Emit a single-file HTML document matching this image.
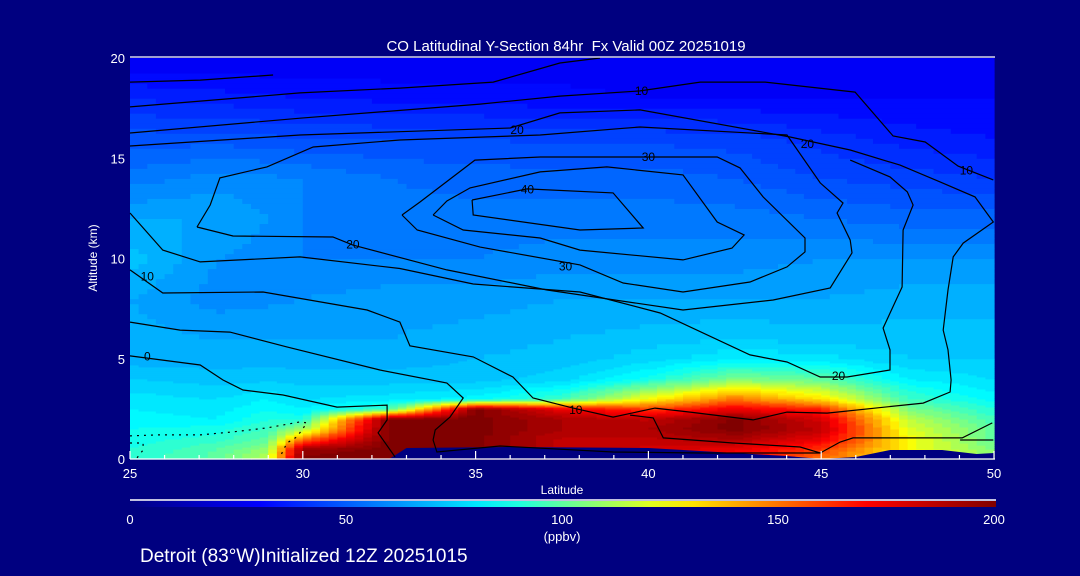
<!DOCTYPE html>
<html><head><meta charset="utf-8">
<style>
html,body{margin:0;padding:0;background:#000080;width:1080px;height:576px;overflow:hidden}
svg{display:block;font-family:"Liberation Sans",sans-serif}
</style></head>
<body>
<svg id="chart" width="1080" height="576" viewBox="0 0 1080 576" xmlns="http://www.w3.org/2000/svg">
<rect x="0" y="0" width="1080" height="576" fill="#000080"/>
<text x="566" y="51" fill="#fff" font-size="15" text-anchor="middle" style="white-space:pre">CO Latitudinal Y-Section 84hr  Fx Valid 00Z 20251019</text>
<g id="field"></g>
<g id="terrain"></g>
<g id="contours"></g>
<g id="axes"></g>
<text transform="translate(97,258) rotate(-90)" fill="#fff" font-size="12" text-anchor="middle">Altitude (km)</text>
<text x="562" y="494" fill="#fff" font-size="12" text-anchor="middle">Latitude</text>
<defs><linearGradient id="cbg" x1="0" x2="1" y1="0" y2="0"></linearGradient></defs>
<line x1="130" y1="500" x2="996" y2="500" stroke="#fff" stroke-width="1.5"/>
<rect x="130" y="501" width="866" height="6" fill="url(#cbg)"/>
<g id="cbticks"></g>
<text x="562" y="541" fill="#fff" font-size="13" text-anchor="middle">(ppbv)</text>
<text x="140" y="562" fill="#fff" font-size="19">Detroit (83°W)Initialized 12Z 20251015</text>
</svg>
<script>
const lats=[25,27.5,29,30,32.5,35,37.5,40,42.5,45,47.5,50];
const alts=[0,0.5,1,1.5,2,2.5,3,4,5,6,8,10,12,14,16,18,20];
const co=[
[90,100,115,200,200,200,190,180,170,150,125,105],
[90,98,108,195,200,200,185,180,175,160,125,105],
[88,92,100,150,200,200,185,185,190,175,125,100],
[86,88,95,110,200,200,190,190,200,185,120,100],
[84,82,90,88,200,200,190,185,200,180,115,95],
[82,80,86,82,95,200,175,160,175,165,105,90],
[80,78,82,78,80,84,95,125,150,130,95,84],
[74,72,73,72,72,72,76,88,105,100,82,78],
[68,68,68,68,68,70,72,76,82,80,74,74],
[68,66,66,66,66,68,70,72,74,72,72,72],
[66,60,61,62,64,64,66,66,66,66,68,68],
[72,62,60,58,58,58,60,60,60,62,62,62],
[66,66,62,58,56,56,56,56,56,54,52,52],
[56,60,59,58,54,52,52,52,50,46,44,42],
[48,48,47,46,46,46,45,45,44,40,36,34],
[38,36,35,34,33,32,31,30,30,30,30,30],
[26,26,26,26,26,27,28,28,27,27,27,27]];
const terrainLat=[25,32.5,33.0,36,40,42,44,45,46,47,48.5,49.5,50];
const terrainAlt=[0,0,0.55,0.6,0.55,0.35,0.15,0,0.1,0.45,0.45,0.25,0.3];
const xTicks=[25,30,35,40,45,50];
const yTicks=[0,5,10,15,20];
const cbTicks=[0,50,100,150,200];
const cA=[[25,18.8],[27.03,18.9],[29.14,19.15]];
const cB=[[25,17.56],[29.92,18.26],[32.81,18.5],[35.51,18.8],[37.44,19.75],[38.6,20]];
const cC=[[25,16.26],[29.92,17.0],[35.13,17.7],[37.44,18.1],[39.76,18.36],[41.5,18.8],[43.38,18.8],[45.98,18.3],[47.08,16.11],[48.01,15.81],[48.96,14.61],[49.98,13.92]];
const cD=[[25,15.61],[29.92,16.16],[36.0,16.51],[37.44,17.26],[39.76,17.41],[44.1,16.06],[45.84,15.41],[47.28,14.66],[48.44,13.82],[49.45,13.07],[49.98,11.82],[49.11,10.77],[48.82,10.08],[48.67,8.43],[48.53,6.43],[48.67,5.44],[48.76,3.94],[48.73,3.34],[47.95,2.79],[45.17,2.29],[44.01,2.34],[43.03,1.95],[41.21,2.34],[40.19,2.54],[38.98,2.09],[37.82,2.54],[36.66,3.04],[36.08,4.09],[34.93,5.09],[33.10,5.64],[32.81,6.83],[31.86,7.43],[28.85,8.33],[25.95,8.28],[25,9.43]];
const cE=[[26.94,11.57],[27.32,12.67],[27.6,14.02],[28.96,14.57],[30.3,15.56],[32.81,15.91],[36.87,16.16],[39.76,16.56],[44.01,16.16],[44.97,13.77],[45.63,12.77],[45.46,12.27],[45.84,10.92],[45.89,10.28],[45.26,8.53],[43.61,7.93],[41.0,7.43],[37.07,8.43],[34.17,9.43],[31.45,10.67],[30.87,11.07],[27.98,11.12],[26.94,11.57]];
const cF=[[32.87,12.17],[33.39,12.82],[34.98,14.91],[36.87,15.06],[39.67,15.06],[41.99,15.06],[42.65,14.52],[43.32,13.07],[44.53,11.02],[44.53,10.33],[44.01,9.58],[42.94,8.83],[41.0,8.33],[39.27,8.78],[38.02,9.68],[35.13,10.57],[33.31,11.42],[32.87,12.17]];
const cG=[[33.77,12.17],[34.17,12.87],[34.84,13.52],[36.87,14.32],[38.8,14.57],[41.0,14.17],[41.99,11.82],[42.77,11.17],[42.42,10.52],[41.0,9.93],[38.02,10.42],[36.87,11.02],[34.64,11.42],[33.77,12.17]];
const cH=[[34.9,12.92],[34.93,12.17],[38.02,11.42],[39.85,11.52],[38.98,13.27],[36.49,13.47],[34.9,12.92]];
const cI=[[25,5.14],[27.03,4.69],[27.69,3.94],[28.27,3.44],[29.43,3.19],[30.99,2.59],[32.44,2.69],[32.44,1.95],[32.18,1.30],[32.67,0.1]];
const cJ=[[25,6.83],[26.45,6.43],[27.89,6.33],[29.54,5.59],[32.23,4.44],[34.17,3.79],[34.64,3.04],[34.26,2.09],[33.83,1.45],[33.77,0.95],[33.88,0.35],[35.71,0.65],[38.98,0.35],[41.5,0.30],[44.97,0.30]];
const cK=[[25,12.27],[25.95,10.42],[27.03,9.83],[29.92,10.08],[32.81,9.5],[34.93,8.73],[38.02,8.33],[40.34,7.28],[42.94,5.19],[44.01,4.84],[44.97,4.09],[45.75,4.09],[46.99,4.44],[46.99,5.44],[46.79,6.53],[47.34,8.58],[47.37,11.42],[47.66,12.67],[47.49,13.32],[46.99,14.07],[45.84,14.91]];
const cM=[[39.47,2.19],[40.14,2.05],[40.43,1.05],[42.45,0.8],[44.39,0.6],[44.97,0.3],[45.55,0.85],[45.92,1.05],[49.08,1.05],[49.95,1.8]];
const cN=[[49.02,0.95],[49.98,0.95]];
const cQ=[[25,1.15],[25.78,1.2],[27.03,1.2],[27.98,1.35],[28.96,1.55],[29.92,1.85],[30.12,1.8],[29.83,1.1],[29.54,0.8],[29.34,0.1]];
const cR=[[25,0.8],[25.38,0.8],[25.38,0.45],[25.2,0.05]];
const labelText=["0","10","10","20","20","40","30","30","20","10","20","10"];
const labelLat=[25.5,25.5,39.8,36.2,31.45,36.5,40.0,37.6,44.6,49.2,45.5,37.9];
const labelAlt=[5.1,9.1,18.35,16.4,10.7,13.45,15.05,9.6,15.7,14.4,4.15,2.45];

const NS='http://www.w3.org/2000/svg';
const X0=130,X1=994,Y0=459,Y1=58;
function xs(lat){return X0+(lat-25)/25*(X1-X0);}
function ys(alt){return Y0-alt/20*(Y0-Y1);}
const stops=[[0,[0,0,128]],[30,[0,0,255]],[85,[0,255,255]],[125,[255,255,0]],[170,[255,0,0]],[200,[128,0,0]]];
function cmap(v){v=Math.max(0,Math.min(200,v));for(let i=1;i<stops.length;i++){if(v<=stops[i][0]){const a=stops[i-1],b=stops[i];const t=(v-a[0])/(b[0]-a[0]);const c=a[1].map((q,k)=>Math.round(q+(b[1][k]-q)*t));return 'rgb('+c.join(',')+')';}}return 'rgb(128,0,0)';}
function idx(arr,v){for(let i=0;i<arr.length-1;i++){if(v<=arr[i+1])return i;}return arr.length-2;}
function val(lat,alt){const i=idx(lats,lat),j=idx(alts,alt);const tx=(lat-lats[i])/(lats[i+1]-lats[i]);const ty=(alt-alts[j])/(alts[j+1]-alts[j]);
 const a=co[j][i],b=co[j][i+1],c=co[j+1][i],d=co[j+1][i+1];return a*(1-tx)*(1-ty)+b*tx*(1-ty)+c*(1-tx)*ty+d*tx*ty;}
const field=document.getElementById('field');
const dl=0.25;
let altEdges=[];for(let a=0;a<5;a+=0.1)altEdges.push(+a.toFixed(2));for(let a=5;a<=20.001;a+=0.25)altEdges.push(+a.toFixed(2));
for(let j=0;j<altEdges.length-1;j++){
 const a0=altEdges[j],a1=altEdges[j+1];
 let runStart=25,runCol=null;
 for(let lat=25;lat<=50.0001;lat+=dl){
  const l=Math.min(lat,50);
  const v=lat>=50?null:Math.round(val(l+dl/2,(a0+a1)/2)/4)*4;
  const col=v===null?null:cmap(v);
  if(col!==runCol){
   if(runCol!==null){const r=document.createElementNS(NS,'rect');
    
    
    const x=xs(runStart),y=ys(a1);r.setAttribute('x',x.toFixed(1));r.setAttribute('y',y.toFixed(1));r.setAttribute('width',(xs(l)-x+0.6).toFixed(1));r.setAttribute('height',(ys(a0)-y+0.6).toFixed(1));r.setAttribute('fill',runCol);field.appendChild(r);}
   runStart=l;runCol=col;}
 }
}
const terr=document.getElementById('terrain');
let tp=terrainLat.map((l,i)=>xs(l).toFixed(1)+','+ys(terrainAlt[i]).toFixed(1)).join(' ');
tp+=' '+xs(50)+','+ys(0)+' '+xs(25)+','+ys(0);
const tpoly=document.createElementNS(NS,'polygon');


tpoly.setAttribute('points',tp);tpoly.setAttribute('fill','#000080');terr.appendChild(tpoly);
const cg=document.getElementById('contours');
function line(pts,name,dash){const p=document.createElementNS(NS,'polyline');
 
 
 p.setAttribute('points',pts.map(q=>xs(q[0]).toFixed(1)+','+ys(q[1]).toFixed(1)).join(' '));
 p.setAttribute('fill','none');p.setAttribute('stroke','#000');p.setAttribute('stroke-width','1.2');if(dash)p.setAttribute('stroke-dasharray',dash);cg.appendChild(p);}
[cA,cB,cC,cD,cE,cF,cG,cH,cI,cJ,cK,cM,cN].forEach((c,i)=>line(c,'wind-contour',null));
line(cQ,'negative-wind-contour','2 5');
line(cR,'negative-wind-contour','2 5');
labelText.forEach((t,i)=>{const e=document.createElementNS(NS,'text');
 
 
 e.setAttribute('x',xs(labelLat[i]).toFixed(1));e.setAttribute('y',(ys(labelAlt[i])+4).toFixed(1));e.setAttribute('font-size','12');e.setAttribute('fill','#000');e.setAttribute('text-anchor','middle');e.textContent=t;cg.appendChild(e);});
const ax=document.getElementById('axes');
function ln(x1,y1,x2,y2,name,w){const l=document.createElementNS(NS,'line');
 
 
 l.setAttribute('x1',x1);l.setAttribute('y1',y1);l.setAttribute('x2',x2);l.setAttribute('y2',y2);l.setAttribute('stroke','#fff');l.setAttribute('stroke-width',w||1.3);ax.appendChild(l);}
ln(X0,57,X1+1,57,'plot-top-border');
ln(X0,Y0,X1+1,Y0,'x-axis-line');
for(let l=25;l<=50;l++){const x=xs(l);ln(x,Y0,x,Y0-(l%5===0?8:4),'x-tick',1.2);}
function txt(x,y,t,name,anchor,size){const e=document.createElementNS(NS,'text');
 
 
 e.setAttribute('x',x);e.setAttribute('y',y);e.setAttribute('fill','#fff');e.setAttribute('font-size',size||13);e.setAttribute('text-anchor',anchor);e.textContent=t;return e;}
xTicks.forEach(v=>ax.appendChild(txt(xs(v),478,String(v),'x-tick-label','middle',13)));
yTicks.forEach(v=>ax.appendChild(txt(125,ys(v)+5,String(v),'y-tick-label','end',13)));
const grad=document.getElementById('cbg');
for(let v=0;v<=200;v+=10){const s=document.createElementNS(NS,'stop');s.setAttribute('offset',(v/200).toFixed(3));s.setAttribute('stop-color',cmap(v));grad.appendChild(s);}
const cbt=document.getElementById('cbticks');
cbTicks.forEach(v=>cbt.appendChild(txt(130+v/200*864,524,String(v),'colorbar-tick-label','middle',13)));
</script>
</body></html>
